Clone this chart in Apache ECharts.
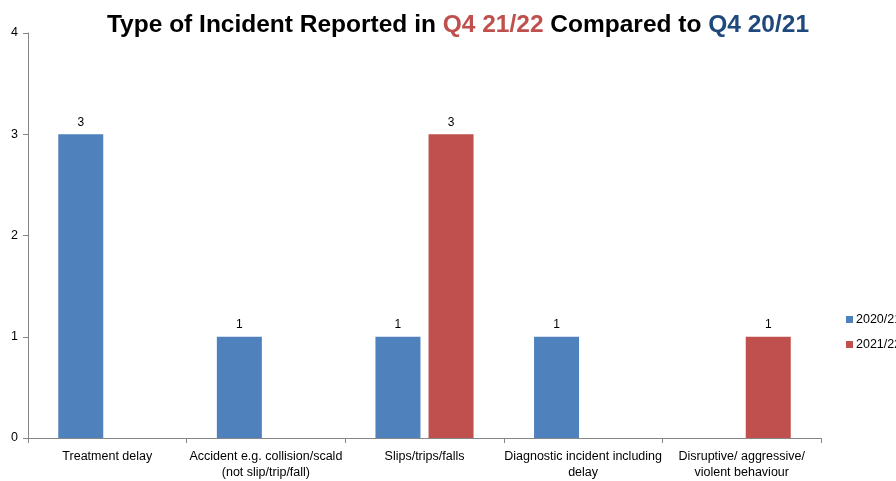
<!DOCTYPE html>
<html>
<head>
<meta charset="utf-8">
<script src="https://cdn.jsdelivr.net/npm/echarts@6/dist/echarts.min.js"></script>
<style>
  html, body { margin: 0; padding: 0; background: #fff; }
  #chart { width: 896px; height: 481px; }
</style>
</head>
<body>
<div id="chart"></div>
<script>
// incident types (x axis)
const categories = [
  'Treatment delay',
  'Accident e.g. collision/scald\n(not slip/trip/fall)',
  'Slips/trips/falls',
  'Diagnostic incident including\ndelay',
  'Disruptive/ aggressive/\nviolent behaviour'
];
// counts per year, null = no bar
const values2021 = [3, 1, 1, 1, null];
const values2122 = [null, null, 3, null, 1];
const yTicks = [0, 1, 2, 3, 4];

const chart = echarts.init(document.getElementById('chart'));

const titleFont = 'Liberation Sans Narrow, Arial Narrow, Liberation Sans, sans-serif';

const labelStyle = {
  show: true,
  position: 'top',
  distance: 6,
  color: '#000',
  fontSize: 12,
  fontFamily: 'Liberation Sans, Arial, sans-serif'
};

var option = {
  animation: false,
  textStyle: { fontFamily: 'Liberation Sans, Arial, sans-serif' },
  title: {
    text: 'Type of Incident Reported in {r|Q4 21/22} Compared to {b|Q4 20/21}',
    left: 453,
    textAlign: 'center',
    top: 8,
    textStyle: {
      fontFamily: titleFont,
      fontSize: 24.5,
      fontWeight: 'bold',
      color: '#000',
      rich: {
        r: { color: '#C0504D', fontSize: 24.5, fontWeight: 'bold', fontFamily: titleFont },
        b: { color: '#1F497D', fontSize: 24.5, fontWeight: 'bold', fontFamily: titleFont }
      }
    }
  },
  legend: {
    orient: 'vertical',
    left: 841,
    top: 308,
    itemWidth: 7,
    itemHeight: 7,
    itemGap: 12,
    icon: 'rect',
    textStyle: { color: '#000', fontSize: 12.5, padding: [0, 0, 0, -2] },
    data: ['2020/21', '2021/22']
  },
  grid: {
    left: 28,
    right: 75,
    top: 33,
    bottom: 36,
    containLabel: false
  },
  xAxis: {
    type: 'category',
    data: categories,
    axisLine: { lineStyle: { color: '#868686', width: 1 } },
    axisTick: { show: true, alignWithLabel: false, length: 5, lineStyle: { color: '#868686' } },
    axisLabel: {
      color: '#000',
      fontSize: 12.5,
      margin: 11,
      lineHeight: 16,
      interval: 0
    }
  },
  yAxis: {
    type: 'value',
    min: yTicks[0],
    max: yTicks[yTicks.length - 1],
    interval: 1,
    axisLine: { show: true, lineStyle: { color: '#868686', width: 1 } },
    axisTick: { show: true, length: 5, lineStyle: { color: '#868686' } },
    splitLine: { show: false },
    axisLabel: { color: '#000', fontSize: 12.5, margin: 10 }
  },
  series: [
    {
      name: '2020/21',
      type: 'bar',
      data: values2021,
      barWidth: 45,
      barGap: '18%',
      itemStyle: { color: '#4F81BD' },
      label: labelStyle
    },
    {
      name: '2021/22',
      type: 'bar',
      data: values2122,
      barWidth: 45,
      itemStyle: { color: '#C0504D' },
      label: labelStyle
    }
  ]
};

chart.setOption(option);
</script>
</body>
</html>
